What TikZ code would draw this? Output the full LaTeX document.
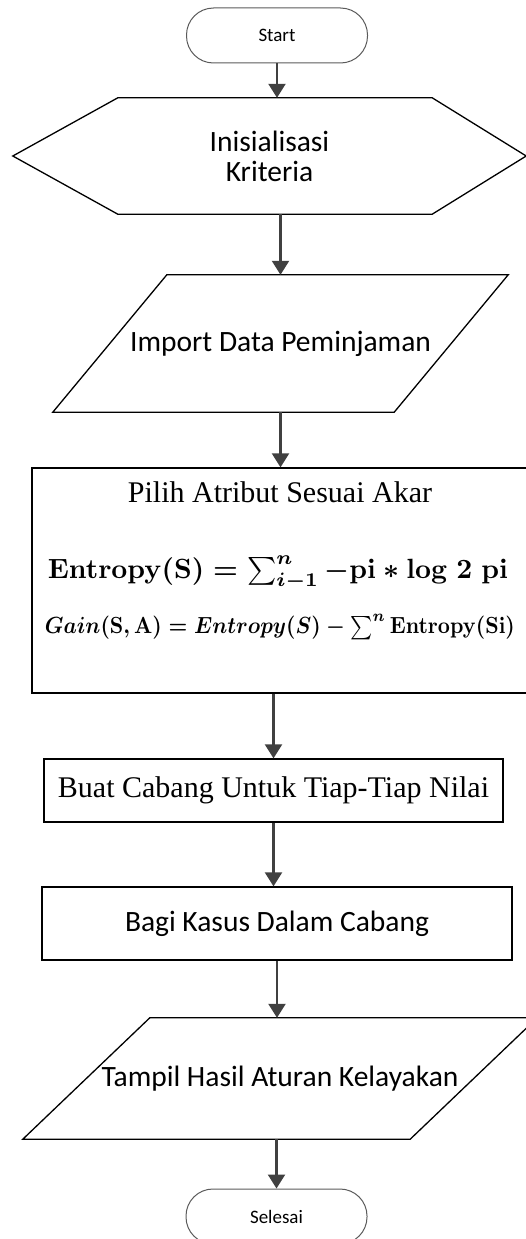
\documentclass[tikz,border=0pt]{standalone}
\usepackage{graphicx}
\usepackage{fontspec}
\setmainfont{Liberation Serif}
\newfontfamily\flowsans{Carlito}
\usetikzlibrary{arrows.meta,calc}
\definecolor{arrowgray}{HTML}{404040}
\definecolor{termgray}{HTML}{5A5A5A}
\begin{document}
\begin{tikzpicture}[x=1pt,y=-1pt,
  arr/.style={draw=arrowgray, line width=2.2pt, -{Triangle[length=14pt,width=17pt]}},
  frame/.style={inner sep=0pt},
  outline/.style={draw=black, line width=1.3pt},
  term/.style={draw=termgray, line width=1pt, rounded corners=27pt,
    minimum width=181pt, minimum height=55pt, inner sep=0pt,
    font=\flowsans\fontsize{19}{22}\selectfont},
  sanslabel/.style={font=\flowsans\fontsize{29.5}{30}\selectfont, align=center},
  seriflabel/.style={font=\fontsize{30}{32}\selectfont}
]
\useasboundingbox (0,0) rectangle (526,1239);

% terminals
\node[term] (start) at (277,35.5) {Start};
\node[term] (selesai) at (276.5,1216.5) {Selesai};

% preparation (hexagon)
\node[frame, sanslabel, minimum width=513pt, minimum height=116pt] (hex) at (269.5,156) {Inisialisasi\\Kriteria};
\draw[outline] (hex.west) -- ($(hex.north west)+(105,0)$) -- ($(hex.north east)-(94,0)$)
  -- (hex.east) -- ($(hex.south east)-(94,0)$) -- ($(hex.south west)+(105,0)$) -- cycle;

% input data (parallelogram)
\node[frame, sanslabel, minimum width=455pt, minimum height=137pt] (imp) at (280.5,343.5) {Import Data Peminjaman};
\draw[outline] ($(imp.north west)+(114,0)$) -- (imp.north east)
  -- ($(imp.south east)-(114,0)$) -- (imp.south west) -- cycle;

% attribute selection with formulas
\node[outline, frame, minimum width=500pt, minimum height=225pt] (pilih) at (282,580.5) {};
\node[seriflabel] (pilihtitle) at (280,492) {Pilih Atribut Sesuai Akar};
\node[inner sep=0pt] (entropy) at (278,573)
  {\resizebox{460pt}{!}{\boldmath$\mathbf{Entropy(S)} = \sum\nolimits_{i-1}^{n} -\mathbf{pi} \ast \mathbf{log\;2\;pi}$}};
\node[inner sep=0pt] (gain) at (280,627)
  {\resizebox{470pt}{19pt}{\boldmath$Gain(\mathbf{S,A}) = Entropy(S) - \sum\nolimits^{n} \mathbf{Entropy(Si)}$}};

% process boxes
\node[outline, frame, seriflabel, minimum width=459pt, minimum height=63pt] (cabang) at (273.5,790.5) {Buat Cabang Untuk Tiap-Tiap Nilai};
\node[outline, frame, sanslabel, minimum width=470pt, minimum height=73pt] (bagi) at (277,923.5) {Bagi Kasus Dalam Cabang};

% output (parallelogram)
\node[frame, sanslabel, minimum width=514pt, minimum height=121pt] (tampil) at (280,1078.5) {Tampil Hasil Aturan Kelayakan};
\draw[outline] ($(tampil.north west)+(127,0)$) -- (tampil.north east)
  -- ($(tampil.south east)-(127,0)$) -- (tampil.south west) -- cycle;

% connectors
\draw[arr] (start.south) -- (start.south |- hex.north);
\draw[arr] (hex.south -| imp.north) -- (imp.north);
\draw[arr] (imp.south) -- (imp.south |- pilih.north);
\draw[arr] (pilih.south -| cabang.north) -- (cabang.north);
\draw[arr] (cabang.south) -- (cabang.south |- bagi.north);
\draw[arr] (bagi.south) -- (bagi.south |- tampil.north);
\draw[arr] (tampil.south -| selesai.north) -- (selesai.north);
\end{tikzpicture}
\end{document}
